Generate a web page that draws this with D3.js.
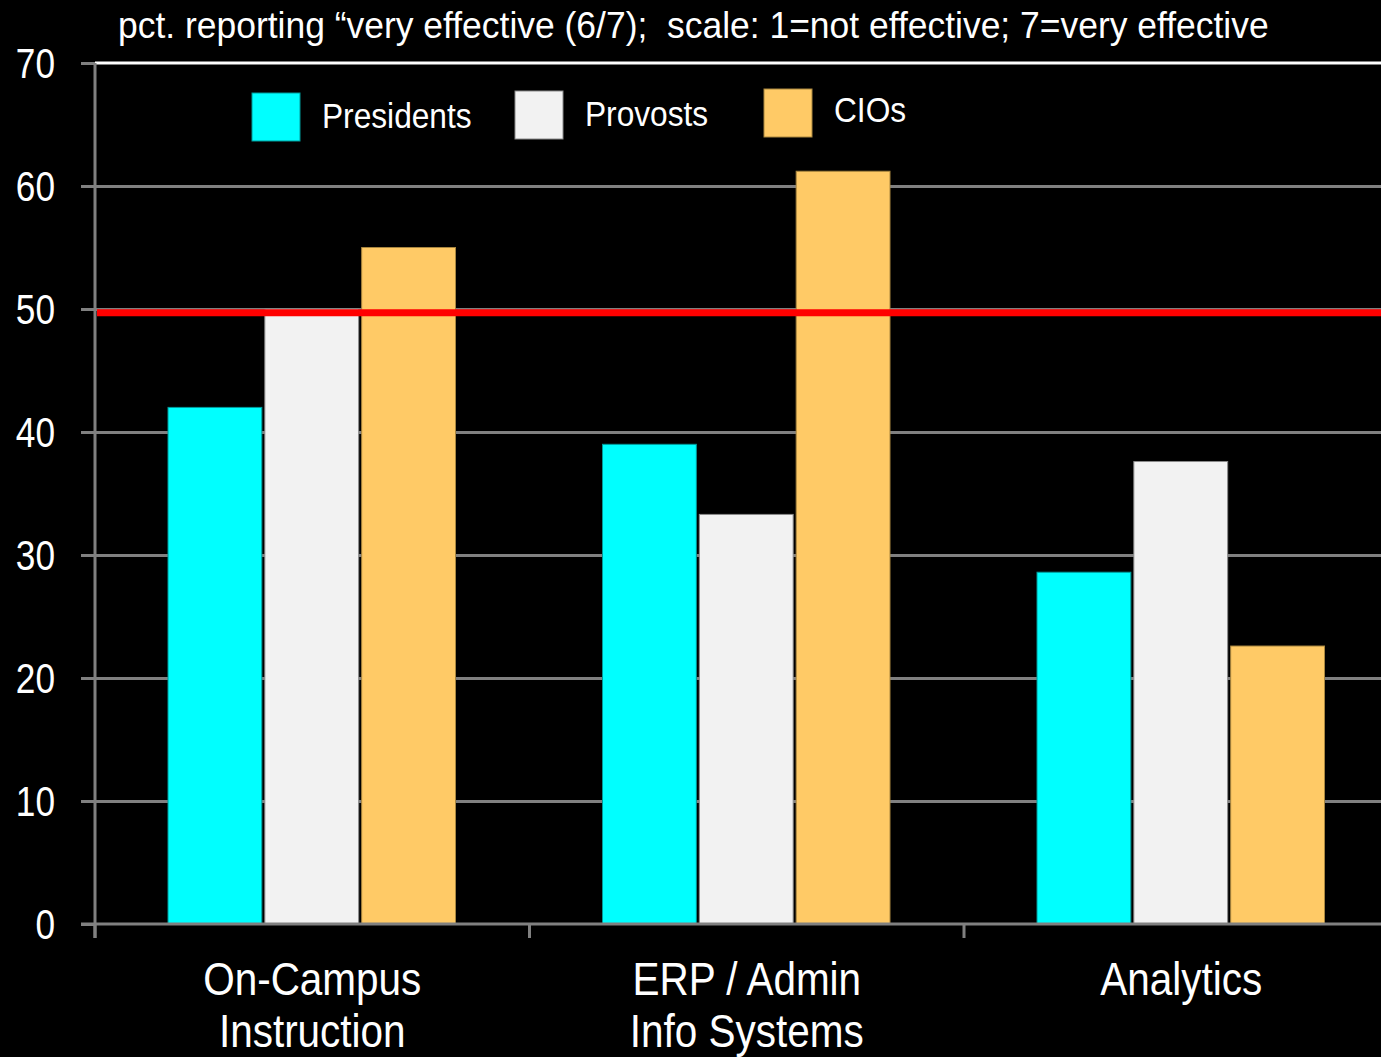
<!DOCTYPE html>
<html>
<head>
<meta charset="utf-8">
<script src="https://cdn.jsdelivr.net/npm/d3@7"></script>
<style>
  html, body { margin: 0; padding: 0; background: #000; }
  svg { display: block; }
  text { font-family: "Liberation Sans", Arial, sans-serif; fill: #fff; white-space: pre; }
</style>
</head>
<body>
<svg id="chart" width="1381" height="1057"></svg>
<script>
// ---- data ----
const categories = [["On-Campus", "Instruction"], ["ERP / Admin", "Info Systems"], ["Analytics"]];
const series = ["Presidents", "Provosts", "CIOs"];
const presidents = [42.0, 39.0, 28.6];
const provosts = [50.0, 33.3, 37.6];
const cios = [55.0, 61.2, 22.6];
const yTicks = [0, 10, 20, 30, 40, 50, 60, 70];
const referenceValue = 49.7;
const titleText = "pct. reporting \u201Cvery effective (6/7);  scale: 1=not effective; 7=very effective";

// ---- layout ----
const W = 1381, H = 1057;
const mLeft = 95, mTop = 63, mBottom = 924;
const bandW = 434.5;
const colors = ["#00FFFF", "#F2F2F2", "#FFCA66"];
const strokes = ["#009999", "#8a8a8a", "#a8863f"];
const narrow = 0.88;

const svg = d3.select("#chart");
svg.append("rect").attr("width", W).attr("height", H).attr("fill", "#000");

// helper: condensed text via horizontal scale
function ntext(parent, x, yy, str, size, anchor, sx) {
  return parent.append("text")
    .attr("transform", `translate(${x},${yy}) scale(${sx || narrow},1)`)
    .attr("text-anchor", anchor || "start")
    .attr("font-size", size)
    .attr("xml:space", "preserve")
    .text(str);
}

const catKeys = categories.map((c, i) => i);
const x0 = d3.scaleBand().domain(catKeys).range([mLeft, mLeft + bandW * catKeys.length]).padding(0);
const x1 = d3.scaleBand().domain(series).range([71.5, bandW - 72.5]).padding(0);
const y = d3.scaleLinear().domain([0, 70]).range([mBottom, mTop]);

const valuesBySeries = [presidents, provosts, cios];

// gridlines
const grid = svg.append("g").attr("transform", `translate(${mLeft},0)`)
  .call(d3.axisLeft(y).tickValues(yTicks.filter(t => t > 0 && t < 70)).tickSize(-(W - mLeft)).tickFormat(""));
grid.select(".domain").remove();
grid.selectAll("line").attr("stroke", "#808080").attr("stroke-width", 3);

// top line (70) white
svg.append("line").attr("x1", mLeft).attr("x2", W).attr("y1", y(70)).attr("y2", y(70))
  .attr("stroke", "#fff").attr("stroke-width", 3);

// bars
const groups = svg.append("g").selectAll("g").data(catKeys).join("g")
  .attr("transform", d => `translate(${x0(d)},0)`);
groups.selectAll("rect")
  .data(ci => series.map((s, si) => ({ s, si, v: valuesBySeries[si][ci] })))
  .join("rect")
  .attr("x", d => x1(d.s) + 1.5)
  .attr("width", x1.bandwidth() - 3)
  .attr("y", d => y(d.v))
  .attr("height", d => y(0) - y(d.v))
  .attr("fill", d => colors[d.si])
  .attr("stroke", d => strokes[d.si])
  .attr("stroke-width", 1);

// y axis ticks
const yAxis = svg.append("g").attr("transform", `translate(${mLeft},0)`)
  .call(d3.axisLeft(y).tickValues(yTicks).tickSize(14).tickFormat(""));
yAxis.select(".domain").remove();
yAxis.selectAll("line").attr("stroke", "#808080").attr("stroke-width", 3);
svg.append("line").attr("x1", mLeft).attr("x2", mLeft).attr("y1", mTop).attr("y2", mBottom + 14)
  .attr("stroke", "#808080").attr("stroke-width", 3);
const yLab = svg.append("g");
yTicks.forEach(t => ntext(yLab, 55, y(t) + 15, String(t), 42, "end", 0.84));

// x axis
svg.append("line").attr("x1", mLeft - 14).attr("x2", W).attr("y1", mBottom).attr("y2", mBottom)
  .attr("stroke", "#808080").attr("stroke-width", 3);
svg.append("g").selectAll("line").data(catKeys).join("line")
  .attr("x1", d => x0(d)).attr("x2", d => x0(d))
  .attr("y1", mBottom).attr("y2", mBottom + 14)
  .attr("stroke", "#808080").attr("stroke-width", 3);
const xLab = svg.append("g");
catKeys.forEach(d => {
  categories[d].forEach((line, i) => {
    ntext(xLab, x0(d) + x0.bandwidth() / 2, 995 + i * 52, line, 46, "middle");
  });
});

// reference line
svg.append("line").attr("x1", mLeft + 2).attr("x2", W).attr("y1", y(referenceValue)).attr("y2", y(referenceValue))
  .attr("stroke", "#FF0000").attr("stroke-width", 7);

// title (fit to reference span)
const title = ntext(svg, 118, 38, titleText, 36, "start", 1);
const tl = title.node().getComputedTextLength();
title.attr("transform", `translate(118,38) scale(${1151 / tl},1)`);

// legend
const legendPos = [{ x: 252, y: 93, ty: 128 }, { x: 515, y: 91, ty: 126 }, { x: 764, y: 89, ty: 122 }];
const lg = svg.append("g");
series.forEach((s, i) => {
  lg.append("rect")
    .attr("x", legendPos[i].x).attr("y", legendPos[i].y)
    .attr("width", 48).attr("height", 48)
    .attr("fill", colors[i]).attr("stroke", strokes[i]).attr("stroke-width", 1);
  ntext(lg, legendPos[i].x + 70, legendPos[i].ty, s, 36, "start");
});
</script>
</body>
</html>
